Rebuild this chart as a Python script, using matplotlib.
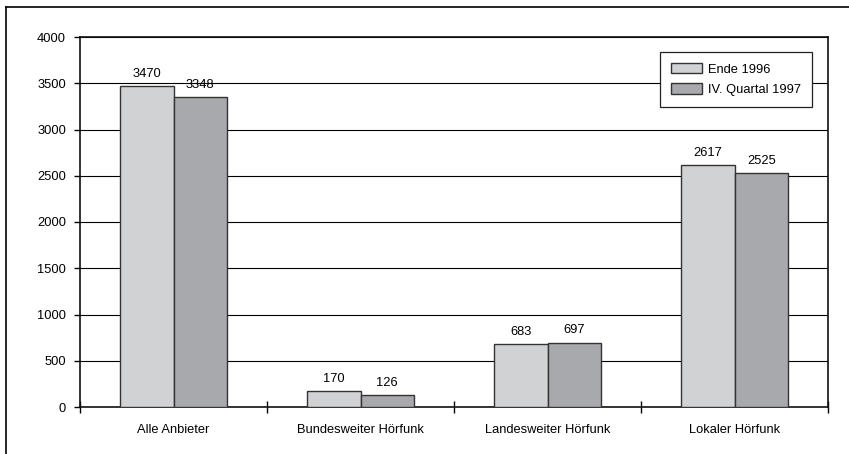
import matplotlib.pyplot as plt
import numpy as np
from matplotlib.lines import Line2D

plt.rcParams['font.family'] = ['Liberation Sans', 'DejaVu Sans']

# Anbieterzahlen nach Sparte
categories = ["Alle Anbieter", "Bundesweiter Hörfunk", "Landesweiter Hörfunk", "Lokaler Hörfunk"]
ende_1996 = [3470, 170, 683, 2617]
quartal_1997 = [3348, 126, 697, 2525]
series_names = ["Ende 1996", "IV. Quartal 1997"]

fs = 9.3

fig = plt.figure(figsize=(8.49, 4.54), dpi=100)
ax = fig.add_axes([80 / 849, 1 - 407 / 454, 748 / 849, 370 / 454])

x = np.arange(len(categories))
w = 0.286
b1 = ax.bar(x - w / 2, ende_1996, w, color="#d1d2d4", edgecolor="#333333", linewidth=1, zorder=3, label=series_names[0])
b2 = ax.bar(x + w / 2, quartal_1997, w, color="#a8a9ac", edgecolor="#333333", linewidth=1, zorder=3, label=series_names[1])

# value labels above the bars
for bars, vals in ((b1, ende_1996), (b2, quartal_1997)):
    for bar, v in zip(bars, vals):
        ax.annotate(str(v), (bar.get_x() + bar.get_width() / 2, v), xytext=(0, 4.5),
                    textcoords="offset points", ha="center", va="bottom", fontsize=fs)

ax.set_xlim(-0.5, len(categories) - 0.5)
ax.set_ylim(0, 4000)
ax.set_yticks(np.arange(0, 4001, 500))
ax.yaxis.grid(True, color="black", linewidth=0.8, zorder=0)
ax.set_axisbelow(True)

# category ticks sit between the groups
ax.set_xticks(np.arange(-0.5, len(categories), 1.0))
ax.set_xticklabels([])
ax.set_xticks(x, minor=True)
ax.set_xticklabels(categories, minor=True, fontsize=fs)
ax.tick_params(axis="x", which="minor", length=0, pad=12.5)
ax.tick_params(axis="x", which="major", direction="inout", length=8, width=1)
ax.tick_params(axis="y", direction="out", length=4, width=1, labelsize=fs, pad=6)

for s in ax.spines.values():
    s.set_linewidth(1.2)
    s.set_color("#111111")

leg = ax.legend(loc="upper right", bbox_to_anchor=(0.9786, 0.9595), borderaxespad=0,
                fancybox=False, edgecolor="#222222", framealpha=1, fontsize=fs,
                handlelength=2.4, handleheight=0.85, handletextpad=0.5, labelspacing=0.6,
                borderpad=0.85)
leg.get_frame().set_linewidth(0.9)

# outer frame (top and left edges)
fig.add_artist(Line2D([6 / 849, 1], [1 - 7 / 454, 1 - 7 / 454], color="black", linewidth=1.2, transform=fig.transFigure))
fig.add_artist(Line2D([6 / 849, 6 / 849], [0, 1 - 7 / 454], color="black", linewidth=1.2, transform=fig.transFigure))

fig.savefig("out.png", dpi=100)
